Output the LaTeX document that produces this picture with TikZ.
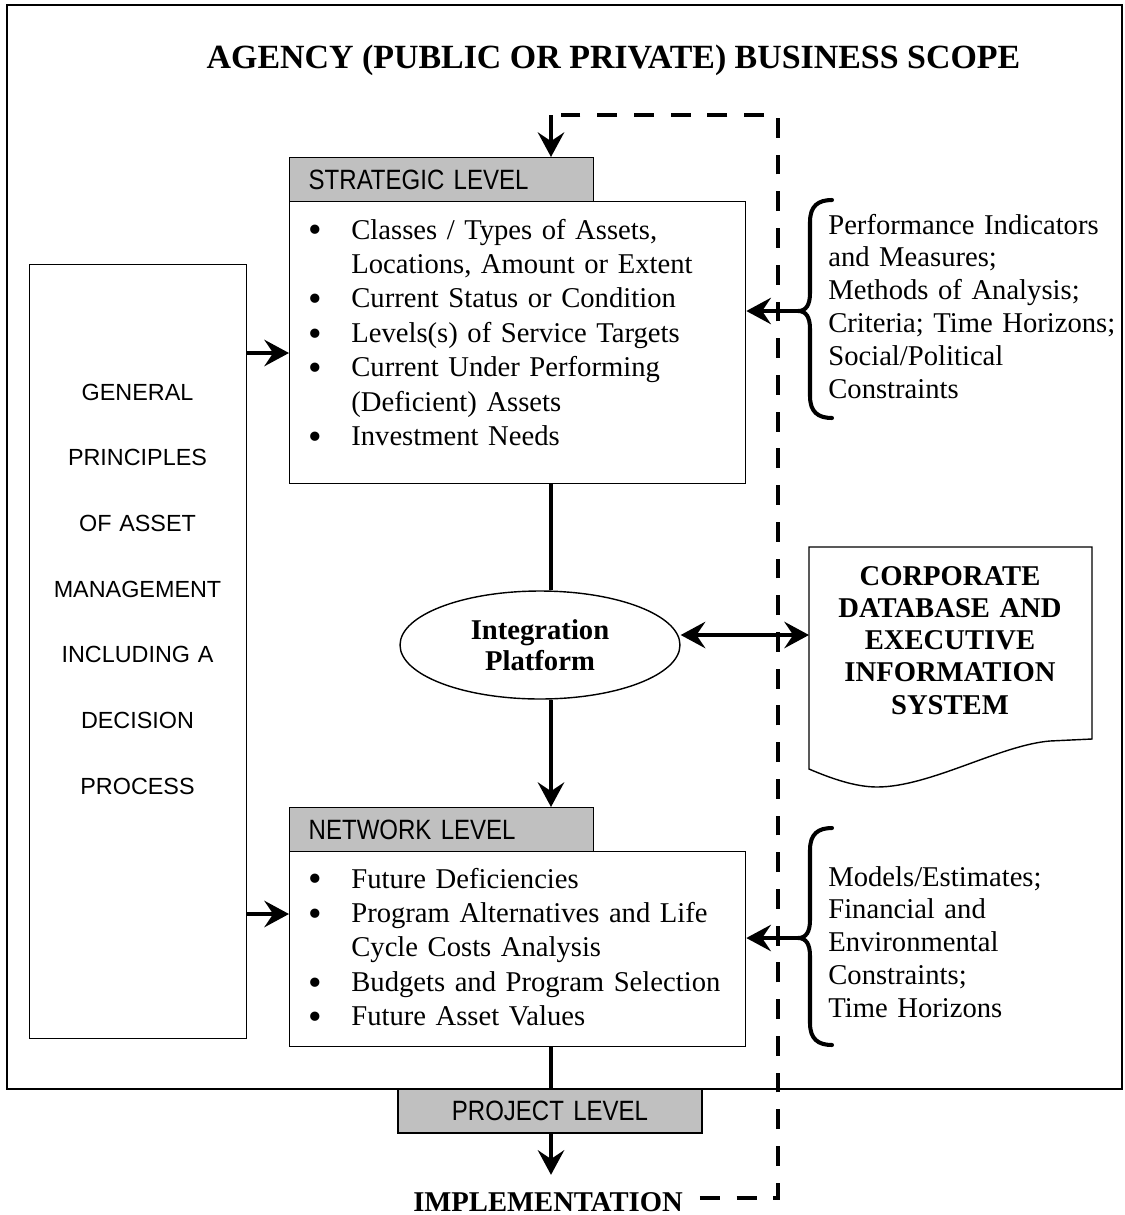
\documentclass[tikz,border=0pt]{standalone}
\usepackage{fontspec}
\setmainfont{Liberation Serif}
\newfontfamily\headfont[FakeStretch=0.86]{Liberation Sans}
\newfontfamily\sidefont{Liberation Sans}
\usetikzlibrary{arrows.meta,shapes.geometric,positioning}
\definecolor{headgray}{RGB}{192,192,192}
\newcommand{\bodysize}{\fontsize{16.3pt}{19.6pt}\selectfont}
\newcommand{\listitem}[1]{\hangindent=0.86cm\hangafter=1\noindent\makebox[0.86cm][l]{\raisebox{-0.13em}[0.5em][0pt]{\scalebox{1.35}{\textbullet}}}#1\par}

\tikzset{
  boxline/.style={draw, line width=0.8pt},
  levelhead/.style={boxline, fill=headgray, anchor=north west, minimum height=0.88cm,
    inner xsep=0.38cm, inner ysep=0pt, text width=5.32cm,
    font=\headfont\fontsize{15.9pt}{18pt}\selectfont},
  levelbox/.style={boxline, anchor=north west, minimum width=9.12cm},
  itemlist/.style={anchor=base west, inner sep=0pt, text width=8.6cm, font=\bodysize},
  sidelist/.style={anchor=base west, inner sep=0pt, text width=6cm, align=left,
    font=\fontsize{16.3pt}{18.7pt}\selectfont},
  flow/.style={line width=2.4pt, -{Stealth[length=14pt,width=15pt,inset=5pt]}},
  dflow/.style={line width=2.4pt, {Stealth[length=14pt,width=15pt,inset=5pt]}-{Stealth[length=14pt,width=15pt,inset=5pt]}},
  solidlink/.style={line width=2.4pt},
  feedback/.style={line width=2.8pt, dash pattern=on 11.3pt off 9.6pt},
  bracepath/.style={line width=2.3pt, line cap=round},
}

\begin{document}
\begin{tikzpicture}[x=0.02cm, y=-0.02cm]
\useasboundingbox (0,0) rectangle (1125,1215);
% business scope
\draw[boxline] (7,5) rectangle (1122,1089);
\node[anchor=base, font=\bfseries\fontsize{19.3pt}{22pt}\selectfont] (title) at (613.5,68) {AGENCY (PUBLIC OR PRIVATE) BUSINESS SCOPE};

% general principles
\node[boxline, anchor=north west, minimum width=4.34cm, minimum height=15.48cm] (gp) at (29,264) {};
\node[anchor=base, text width=4.2cm, align=center, inner sep=0pt,
  font=\sidefont\fontsize{13.3pt}{37.4pt}\selectfont] (gpText) at (137.5,400)
  {GENERAL\\PRINCIPLES\\OF ASSET\\MANAGEMENT\\INCLUDING A\\DECISION\\PROCESS};

% strategic level
\node[levelhead] (stratHead) at (289,157) {STRATEGIC LEVEL};
\node[levelbox, minimum height=5.64cm] (strat) at (289,201) {};
\node[itemlist] (stratList) at (308,239) {%
  \listitem{Classes / Types of Assets,\newline Locations, Amount or Extent}%
  \listitem{Current Status or Condition}%
  \listitem{Levels(s) of Service Targets}%
  \listitem{Current Under Performing\newline (Deficient) Assets}%
  \listitem{Investment Needs}};

% integration platform
\node[ellipse, boxline, minimum width=5.6cm, minimum height=2.16cm, inner sep=0pt, align=center,
  font=\bfseries\fontsize{16.3pt}{17.6pt}\selectfont] (integ) at (540,645) {Integration\\Platform};

% network level
\node[levelhead] (netHead) at (289,807) {NETWORK LEVEL};
\node[levelbox, minimum height=3.9cm] (net) at (289,851) {};
\node[itemlist] (netList) at (308,888) {%
  \listitem{Future Deficiencies}%
  \listitem{Program Alternatives and Life\newline Cycle Costs Analysis}%
  \listitem{Budgets and Program Selection}%
  \listitem{Future Asset Values}};

% project level
\node[levelhead, anchor=center, align=center] (projHead) at (550,1111) {PROJECT LEVEL};
\node[anchor=base, inner sep=9.6pt, font=\bfseries\fontsize{16.3pt}{19pt}\selectfont] (impl) at (548,1211) {IMPLEMENTATION};

% database document
\coordinate (docW) at (809,635);
\draw[boxline] (809,547) -- (1092,547) -- (1092,739) -- (1050,741)
  .. controls (1000,745) and (930,787) .. (877,787)
  .. controls (855,787) and (830,778) .. (809,769) -- cycle;
\node[anchor=base, text width=5.4cm, align=center, inner sep=0pt,
  font=\bfseries\fontsize{16.3pt}{18.4pt}\selectfont] (db) at (950,585)
  {CORPORATE\\DATABASE AND\\EXECUTIVE\\INFORMATION\\SYSTEM};

% braces
\coordinate (tipA) at (798,311);
\draw[bracepath] (832,200) .. controls (818,200) and (810,206) .. (810,222) -- (810,293)
  .. controls (810,305) and (806,311) .. (tipA) .. controls (806,311) and (810,317) .. (810,329)
  -- (810,396) .. controls (810,412) and (818,418) .. (832,418);
\node[sidelist] (critA) at (828,234) {Performance Indicators\\and Measures;\\Methods of Analysis;\\Criteria; Time Horizons;\\Social/Political\\Constraints};

\coordinate (tipB) at (798,938);
\draw[bracepath] (832,828) .. controls (818,828) and (810,834) .. (810,850) -- (810,920)
  .. controls (810,932) and (806,938) .. (tipB) .. controls (806,938) and (810,944) .. (810,956)
  -- (810,1023) .. controls (810,1039) and (818,1045) .. (832,1045);
\node[sidelist] (critB) at (828,886) {Models/Estimates;\\Financial and\\Environmental\\Constraints;\\Time Horizons};

% connectors
\coordinate (fbCorner) at (551,115);
\coordinate (fbRight) at (778,115);
\draw[solidlink] (strat.south -| fbCorner) -- (integ.north -| fbCorner);
\draw[flow] (integ.south -| fbCorner) -- (netHead.north -| fbCorner);
\draw[solidlink] (net.south -| fbCorner) -- (projHead.north -| fbCorner);
\draw[flow] (projHead.south -| fbCorner) -- (impl.north -| fbCorner);
\draw[flow] (gp.east |- 0,353) -- (strat.west |- 0,353);
\draw[flow] (gp.east |- 0,914) -- (net.west |- 0,914);
\draw[flow] (tipA) -- (strat.east |- tipA);
\draw[flow] (tipB) -- (net.east |- tipB);
\draw[dflow] (integ.east |- 0,635) -- (docW);

% feedback loop
\draw[feedback] (impl.east |- 0,1198) -| (fbRight) -- (fbCorner);
\draw[flow] (fbCorner) -- (stratHead.north -| fbCorner);
\end{tikzpicture}
\end{document}
